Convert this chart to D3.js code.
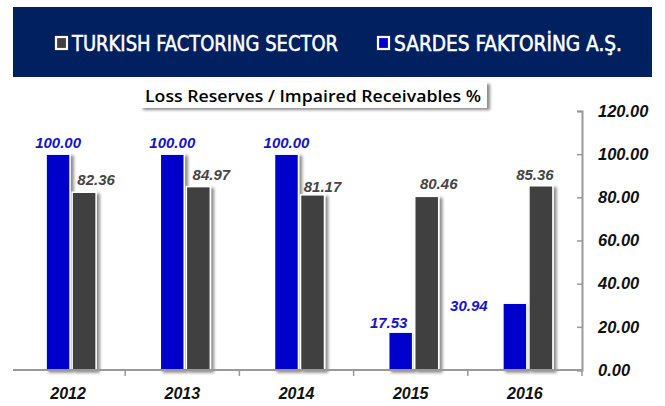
<!DOCTYPE html>
<html>
<head>
<meta charset="utf-8">
<script src="https://cdn.jsdelivr.net/npm/d3@7"></script>
<style>
  body { margin: 0; background: #fff; }
  svg { display: block; }
</style>
</head>
<body>
<div id="chart"></div>
<script>
// data
const years = ["2012", "2013", "2014", "2015", "2016"];
const sardes = [100.00, 100.00, 100.00, 17.53, 30.94];
const sector = [82.36, 84.97, 81.17, 80.46, 85.36];
const yTicks = [0, 20, 40, 60, 80, 100, 120];
const seriesNames = ["SARDES FAKTORİNG A.Ş.", "TURKISH FACTORING SECTOR"];

// hand-placed label nudges (px) as in the original
const sardesNudge = [[0, -6], [0, -6], [0, -6], [-12, -4], [-46, 8]];
const sectorNudge = [[12, -7], [13, -7], [10, -3], [12, -7], [-6, -6]];

const W = 665, H = 406;
const blue = "#0000cc", grey = "#404040";
const numFont = "'Liberation Sans', Arial, sans-serif";

const svg = d3.select("#chart").append("svg")
    .attr("width", W)
    .attr("height", H);

const defs = svg.append("defs");
const shadow = defs.append("filter").attr("id", "shadow")
    .attr("x", "-20%").attr("y", "-20%").attr("width", "160%").attr("height", "140%");
shadow.append("feDropShadow")
    .attr("dx", 3).attr("dy", 2).attr("stdDeviation", 1.6)
    .attr("flood-color", "#000").attr("flood-opacity", 0.45);

// header with legend
svg.append("rect")
    .attr("x", 13).attr("y", 7)
    .attr("width", 639).attr("height", 70)
    .attr("fill", "#002060");

const legend = [
    {name: seriesNames[1], color: grey, x: 55, len: 266},
    {name: seriesNames[0], color: blue, x: 377, len: 228}
];
const lg = svg.selectAll("g.leg").data(legend).enter().append("g")
    .attr("class", "leg")
    .attr("transform", d => `translate(${d.x},36)`);
lg.append("rect")
    .attr("x", 1).attr("y", 1).attr("width", 11).attr("height", 12)
    .attr("fill", d => d.color)
    .attr("stroke", "#fff").attr("stroke-width", 2.2);
lg.append("text")
    .attr("x", 17).attr("y", 14.5)
    .attr("fill", "#fff")
    .attr("stroke", "#fff").attr("stroke-width", 0.5)
    .attr("font-family", "'DejaVu Sans Condensed', 'DejaVu Sans', sans-serif")
    .attr("font-size", "20.5px")
    .attr("textLength", d => d.len)
    .attr("lengthAdjust", "spacingAndGlyphs")
    .text(d => d.name);

// chart title box
svg.append("rect")
    .attr("x", 140).attr("y", 82)
    .attr("width", 347).attr("height", 26)
    .attr("fill", "#fff")
    .attr("filter", "url(#shadow)");
svg.append("text")
    .attr("x", 313).attr("y", 102)
    .attr("text-anchor", "middle")
    .attr("font-family", "'Open Sans', sans-serif")
    .attr("font-weight", 600)
    .attr("font-size", "17px")
    .attr("fill", "#000")
    .attr("textLength", 336)
    .attr("lengthAdjust", "spacingAndGlyphs")
    .text("Loss Reserves / Impaired Receivables %");

// scales
const x = d3.scaleBand().domain(years).range([11, 582]);
const y = d3.scaleLinear().domain([0, 120]).range([370, 111]);
const xs = d3.scaleBand().domain(["sardes", "sector"]).range([0, 50]).paddingInner(0.08);
const pairLeft = x.bandwidth() / 2 - 22;

const rows = years.map((yr, i) => ({year: yr, sardes: sardes[i], sector: sector[i], i: i}));

// y axis on the right
const yAxis = svg.append("g")
    .attr("transform", "translate(582,0)")
    .call(d3.axisRight(y).tickValues(yTicks).tickFormat(d3.format(".2f"))
        .tickSize(-5).tickSizeOuter(-5).tickPadding(16));
yAxis.select(".domain").attr("stroke", "#999").attr("stroke-width", 2);
yAxis.selectAll(".tick line").attr("stroke", "#999").attr("stroke-width", 1.5);
yAxis.selectAll(".tick text")
    .attr("fill", "#111")
    .attr("font-family", numFont)
    .attr("font-style", "italic")
    .attr("font-weight", "bold")
    .attr("font-size", "16.5px")
    .attr("text-anchor", "start");

// bars
const groups = svg.selectAll("g.year").data(rows).enter().append("g")
    .attr("class", "year")
    .attr("transform", d => `translate(${x(d.year) + pairLeft},0)`);

groups.append("rect")
    .attr("x", xs("sardes"))
    .attr("y", d => y(d.sardes))
    .attr("width", xs.bandwidth())
    .attr("height", d => y(0) - y(d.sardes))
    .attr("fill", blue)
    .attr("stroke", "#fff").attr("stroke-width", 1.5)
    .attr("filter", "url(#shadow)");

groups.append("rect")
    .attr("x", xs("sector"))
    .attr("y", d => y(d.sector))
    .attr("width", xs.bandwidth())
    .attr("height", d => y(0) - y(d.sector))
    .attr("fill", grey)
    .attr("stroke", "#fff").attr("stroke-width", 1.5)
    .attr("filter", "url(#shadow)");

// value labels
groups.append("text")
    .attr("x", d => xs("sardes") + xs.bandwidth() / 2 + sardesNudge[d.i][0])
    .attr("y", d => y(d.sardes) + sardesNudge[d.i][1])
    .attr("text-anchor", "middle")
    .attr("font-family", numFont)
    .attr("font-style", "italic")
    .attr("font-weight", "bold")
    .attr("font-size", "15px")
    .attr("fill", "#1414c8")
    .text(d => d.sardes.toFixed(2));

groups.append("text")
    .attr("x", d => xs("sector") + xs.bandwidth() / 2 + sectorNudge[d.i][0])
    .attr("y", d => y(d.sector) + sectorNudge[d.i][1])
    .attr("text-anchor", "middle")
    .attr("font-family", numFont)
    .attr("font-style", "italic")
    .attr("font-weight", "bold")
    .attr("font-size", "15px")
    .attr("fill", "#454545")
    .text(d => d.sector.toFixed(2));

// x axis
const xAxis = svg.append("g")
    .attr("transform", "translate(0,370)")
    .call(d3.axisBottom(x).tickSize(0).tickSizeOuter(0).tickPadding(18));
xAxis.select(".domain").remove();
xAxis.selectAll(".tick text")
    .attr("fill", "#111")
    .attr("font-family", numFont)
    .attr("font-style", "italic")
    .attr("font-weight", "bold")
    .attr("font-size", "16px");

svg.append("line")
    .attr("x1", 13).attr("x2", 582)
    .attr("y1", 370).attr("y2", 370)
    .attr("stroke", "#999").attr("stroke-width", 2);

svg.selectAll("line.sep").data(years).enter().append("line")
    .attr("class", "sep")
    .attr("x1", d => x(d) + x.step()).attr("x2", d => x(d) + x.step())
    .attr("y1", 370).attr("y2", 376)
    .attr("stroke", "#999").attr("stroke-width", 1.5);
</script>
</body>
</html>
